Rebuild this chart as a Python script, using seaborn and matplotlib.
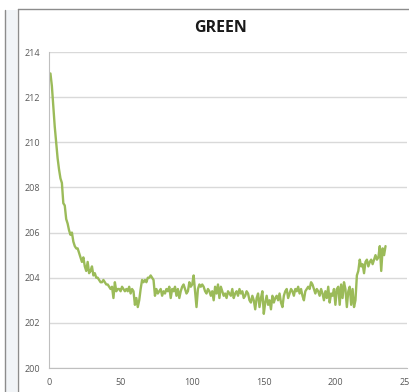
import numpy as np
import pandas as pd
import matplotlib
matplotlib.use("Agg")
import matplotlib.pyplot as plt
from matplotlib.patches import Rectangle
from matplotlib.lines import Line2D
import seaborn as sns

# Frame index and measured GREEN channel level
frames = list(range(1, 236))
green = [
    213.05, 212.5, 211.6, 210.7, 210.0, 209.3, 208.8, 208.4, 208.2, 207.3,
    207.2, 206.6, 206.4, 206.1, 205.9, 206.0, 205.6, 205.4, 205.3, 205.3,
    205.1, 204.9, 204.7, 204.9, 204.5, 204.3, 204.7, 204.2, 204.3, 204.5,
    204.1, 204.2, 204.0, 204.0, 203.9, 203.8, 203.8, 203.9, 203.8, 203.7,
    203.7, 203.6, 203.5, 203.6, 203.1, 203.8, 203.4, 203.5, 203.5, 203.4,
    203.6, 203.5, 203.4, 203.5, 203.4, 203.6, 203.3, 203.5, 203.4, 202.8,
    203.1, 202.7, 203.0, 203.5, 203.9, 203.8, 203.9, 203.8, 204.0, 204.0,
    204.1, 204.0, 203.9, 203.2, 203.5, 203.3, 203.4, 203.5, 203.2, 203.4,
    203.3, 203.5, 203.4, 203.6, 203.1, 203.5, 203.4, 203.6, 203.2, 203.5,
    203.1, 203.4, 203.6, 203.7, 203.5, 203.3, 203.4, 203.8, 203.6, 203.7,
    204.1, 203.4, 202.7, 203.5, 203.7, 203.6, 203.7, 203.6, 203.4, 203.3,
    203.5, 203.4, 203.2, 203.4, 203.0, 203.6, 203.3, 203.7, 203.1, 203.6,
    203.4, 203.2, 203.3, 203.1, 203.4, 203.3, 203.2, 203.5, 203.1, 203.3,
    203.4, 203.2, 203.5, 203.3, 203.4, 203.1, 203.2, 203.4, 203.3, 203.0,
    202.9, 203.2, 203.0, 202.6, 203.1, 203.3, 202.7, 203.1, 203.4, 202.4,
    202.9, 203.2, 202.8, 203.0, 202.6, 203.2, 202.9, 203.1, 203.2, 203.0,
    203.3, 202.9, 202.7, 203.2, 203.4, 203.5, 203.1, 203.3, 203.5, 203.4,
    203.2, 203.5, 203.4, 203.6, 203.3, 203.5, 203.2, 203.0, 203.4, 203.5,
    203.6, 203.5, 203.8, 203.7, 203.5, 203.3, 203.5, 203.4, 203.2, 203.5,
    203.3, 203.0, 203.4, 203.1, 203.6, 202.9, 203.3, 203.2, 203.5, 202.8,
    203.5, 203.6, 202.8, 203.7, 203.1, 203.8, 203.5, 202.7, 203.4, 203.6,
    202.8, 203.5, 202.7, 203.0, 204.1, 204.3, 204.8, 204.5, 204.6, 204.2,
    204.7, 204.8, 204.5, 204.7, 204.8, 204.6, 204.8, 205.0, 204.8, 204.9,
    205.4, 204.3, 205.3, 205.0, 205.4,
]
x_ticks = [0, 50, 100, 150, 200, 250]
y_ticks = [200, 202, 204, 206, 208, 210, 212, 214]
title = "GREEN"

df = pd.DataFrame({"frame": frames, "green": green})

sns.set_theme(style="white")
plt.rcParams["font.family"] = ["Open Sans", "DejaVu Sans"]

W, H = 410, 392
fig = plt.figure(figsize=(W / 100, H / 100), dpi=100)
fig.patch.set_facecolor("white")

# neighbouring panel strip on the left edge
fig.patches.append(Rectangle((5 / W, 0), 12 / W, 1 - 10 / H, transform=fig.transFigure,
                             facecolor="#f1f4f7", edgecolor="none", zorder=0))
fig.lines.append(Line2D([5 / W, 5 / W], [0, 1 - 10 / H], transform=fig.transFigure,
                        color="#8c8c8c", lw=1.0))
# chart frame
fig.lines.append(Line2D([17.5 / W, 17.5 / W], [0, 1 - 8.5 / H], transform=fig.transFigure,
                        color="#8c8c8c", lw=1.0))
fig.lines.append(Line2D([17.5 / W, 1], [1 - 8.5 / H, 1 - 8.5 / H], transform=fig.transFigure,
                        color="#8c8c8c", lw=1.0))

left, right = 49 / W, 407 / W
bottom, top = 1 - 368 / H, 1 - 52 / H
ax = fig.add_axes([left, bottom, right - left, top - bottom])
ax.set_zorder(3)
ax.set_facecolor("none")

sns.lineplot(data=df, x="frame", y="green", ax=ax, color="#9bbb59", lw=1.7)

ax.set_xlim(0, 250)
ax.set_ylim(200, 214)
ax.set_xticks(x_ticks)
ax.set_yticks(y_ticks)
ax.set_xlabel("")
ax.set_ylabel("")
ax.yaxis.grid(True, color="#d9d9d9", lw=1.0)
ax.xaxis.grid(False)
ax.set_axisbelow(True)

for s in ["top", "right"]:
    ax.spines[s].set_visible(False)
for s in ["left", "bottom"]:
    ax.spines[s].set_color("#bfbfbf")
    ax.spines[s].set_linewidth(0.8)

ax.tick_params(axis="both", which="major", length=3.5, width=0.8, color="#bfbfbf",
               labelsize=6.5, labelcolor="#595959", direction="out")
ax.tick_params(axis="y", pad=3)
ax.tick_params(axis="x", pad=4)
for lab in ax.get_xticklabels() + ax.get_yticklabels():
    lab.set_clip_on(False)

fig.text(221 / W, 1 - 28 / H, title, ha="center", va="center",
         fontsize=11.5, fontweight="bold", color="#1a1a1a")

fig.savefig("out.png", dpi=100, facecolor="white")
